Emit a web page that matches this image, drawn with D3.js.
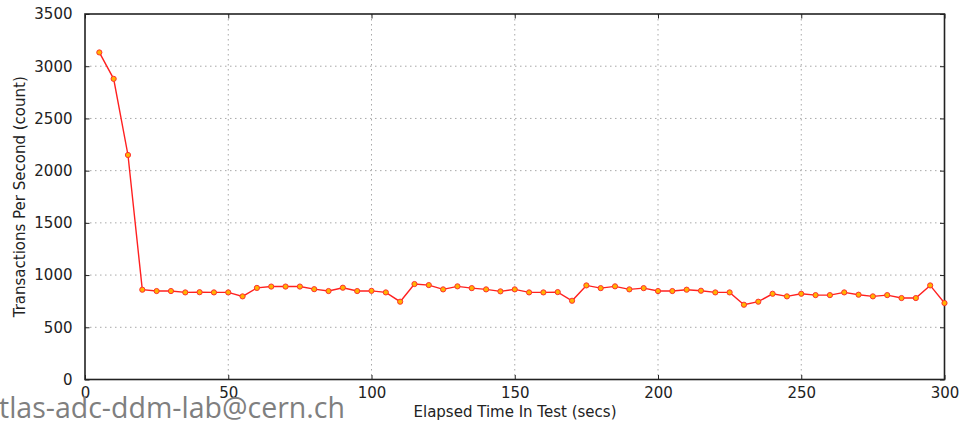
<!DOCTYPE html>
<html><head><meta charset="utf-8">
<script src="https://cdn.jsdelivr.net/npm/d3@7/dist/d3.min.js"></script>
<style>
body{margin:0;background:#fff;}
svg{display:block;font-family:"DejaVu Sans",sans-serif;}
</style></head>
<body><svg id="chart" width="966" height="421"></svg>
<script>
const elapsedSecs = [5,10,15,20,25,30,35,40,45,50,55,60,65,70,75,80,85,90,95,100,
  105,110,115,120,125,130,135,140,145,150,155,160,165,170,175,180,185,190,195,200,
  205,210,215,220,225,230,235,240,245,250,255,260,265,270,275,280,285,290,295,300];
const transactionsPerSec = [3132,2879,2150,860,847,847,834,836,834,834,796,877,890,890,890,865,847,879,847,849,
  834,745,914,904,863,892,875,863,844,863,834,834,837,754,901,875,892,863,875,847,
  847,860,850,834,834,716,745,821,796,821,808,808,834,812,796,808,780,780,901,732];
const xTicks = [0,50,100,150,200,250,300];
const yTicks = [0,500,1000,1500,2000,2500,3000,3500];
const xLabel = "Elapsed Time In Test (secs)";
const yLabel = "Transactions Per Second (count)";
const watermark = "tlas-adc-ddm-lab@cern.ch";

const svg = d3.select("#chart");
const L = 85, R = 944.5, T = 14, B = 379.5;
const x = d3.scaleLinear().domain([0,300]).range([L,R]);
const y = d3.scaleLinear().domain([0,3500]).range([B,T]);

// grid
const grid = svg.append("g");
grid.selectAll(".gx").data(xTicks.slice(1,-1)).join("line")
  .attr("x1",d=>x(d)).attr("x2",d=>x(d)).attr("y1",T).attr("y2",B)
  .attr("stroke","#a8a8a8").attr("stroke-width",1).attr("stroke-dasharray","1.5,3.5");
grid.selectAll(".gy").data(yTicks.slice(1,-1)).join("line")
  .attr("y1",d=>y(d)).attr("y2",d=>y(d)).attr("x1",L).attr("x2",R)
  .attr("stroke","#a8a8a8").attr("stroke-width",1).attr("stroke-dasharray","1.5,3.5");

// axes (inward ticks)
const fs = "15px";
const fmt = d3.format("d");
const ax = svg.append("g").attr("transform",`translate(0,${B})`)
  .call(d3.axisBottom(x).tickValues(xTicks).tickFormat(fmt).tickSizeInner(-4.5).tickSizeOuter(0).tickPadding(7.5));
const ay = svg.append("g").attr("transform",`translate(${L},0)`)
  .call(d3.axisLeft(y).tickValues(yTicks).tickFormat(fmt).tickSizeInner(-4.5).tickSizeOuter(0).tickPadding(12.5));
const axT = svg.append("g").attr("transform",`translate(0,${T})`)
  .call(d3.axisTop(x).tickValues(xTicks).tickSizeInner(-4.5).tickSizeOuter(0).tickFormat(""));
const ayR = svg.append("g").attr("transform",`translate(${R},0)`)
  .call(d3.axisRight(y).tickValues(yTicks).tickSizeInner(-4.5).tickSizeOuter(0).tickFormat(""));
[ax,ay,axT,ayR].forEach(g=>{
  g.select(".domain").remove();
  g.selectAll(".tick line").attr("stroke","#222").attr("stroke-width",1);
  g.selectAll(".tick text").attr("fill","#222").style("font-size",fs).style("font-family","DejaVu Sans, sans-serif");
});

// frame
svg.append("rect").attr("x",L).attr("y",T).attr("width",R-L).attr("height",B-T)
  .attr("fill","none").attr("stroke","#222").attr("stroke-width",1.6);

// line
const pts = elapsedSecs.map((s,i)=>[s,transactionsPerSec[i]]);
svg.append("path").datum(pts)
  .attr("fill","none").attr("stroke","#ff2020").attr("stroke-width",1.4)
  .attr("d",d3.line().x(d=>x(d[0])).y(d=>y(d[1])));
svg.append("g").selectAll("circle").data(pts).join("circle")
  .attr("cx",d=>x(d[0])).attr("cy",d=>y(d[1])).attr("r",2.6)
  .attr("fill","#ffb400").attr("stroke","#ff3030").attr("stroke-width",1);

// labels
svg.append("text").attr("x",515).attr("y",417).attr("text-anchor","middle")
  .style("font-size",fs).attr("fill","#222").text(xLabel);
svg.append("text").attr("transform",`translate(25,${(T+B)/2}) rotate(-90)`)
  .attr("text-anchor","middle").style("font-size",fs).attr("fill","#222").text(yLabel);

// watermark
svg.append("text").attr("x",-1).attr("y",418)
  .style("font-family","'Open Sans',sans-serif").style("font-size","28.5px")
  .attr("fill","#7f7f7f").text(watermark);
</script></body></html>
